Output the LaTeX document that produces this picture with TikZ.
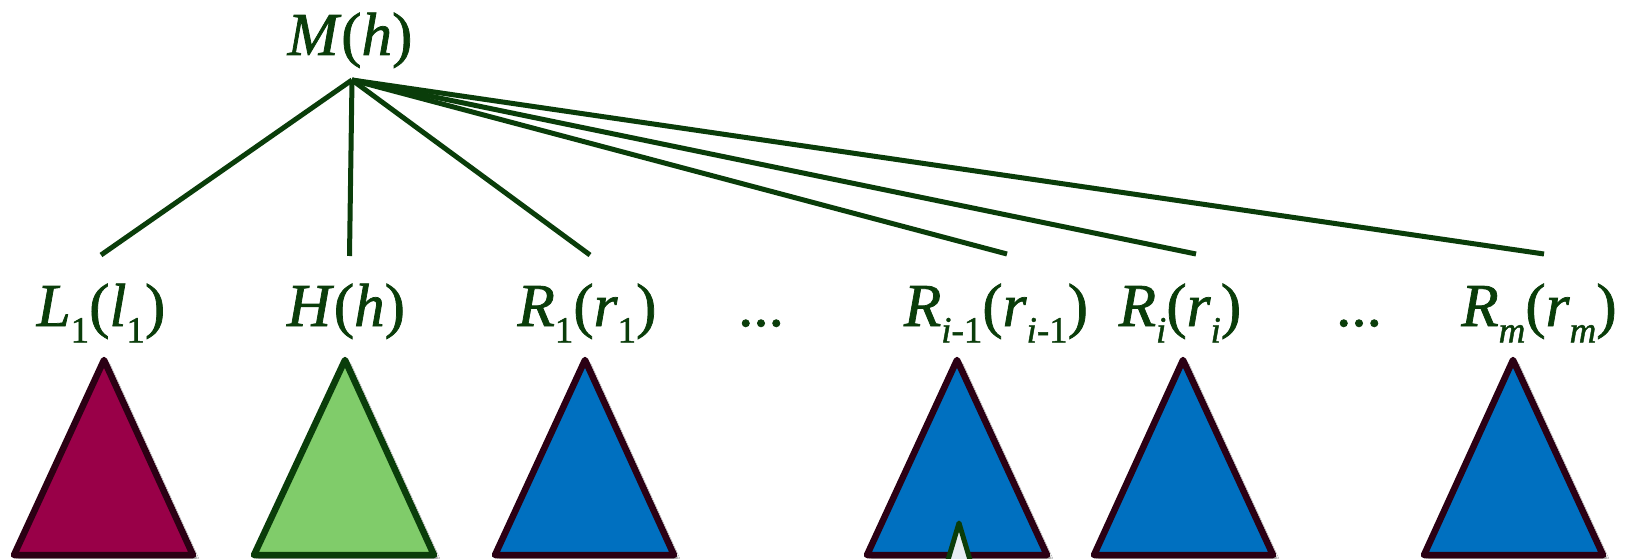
\documentclass[tikz,border=0pt]{standalone}
\usepackage{fontspec}
\setmainfont{Liberation Serif}[UprightFeatures={FakeBold=1.2}, ItalicFeatures={FakeBold=1.2}]
\usetikzlibrary{shadows.blur}
\definecolor{txtgreen}{HTML}{0A3D0A}
\definecolor{edgedark}{HTML}{2B0014}
\definecolor{magfill}{HTML}{990048}
\definecolor{greenfill}{HTML}{80CC6A}
\definecolor{bluefill}{HTML}{0070C0}
\definecolor{palefill}{HTML}{E6EDF2}
\newcommand\sbs[1]{\raisebox{-0.27em}{\fontsize{37}{37}\selectfont #1}}
\tikzset{
  lbl/.style={anchor=base, inner sep=0pt, text=txtgreen, font=\fontsize{61}{61}\selectfont},
  link/.style={draw=txtgreen, line width=5pt},
  tri/.style={draw=edgedark, line width=6.5pt, line join=round,
    blur shadow={shadow xshift=4pt, shadow yshift=-4pt, shadow blur steps=6, shadow opacity=50}},
}
\begin{document}
\begin{tikzpicture}[x=1pt,y=-1pt]
\useasboundingbox (0,0) rectangle (1626,559);
\fill[white] (0,0) rectangle (1626,559);
% labels
\node[lbl] (M) at (350,55) {\textit{M}(\textit{h})};
\node[lbl] (L1) at (101,326) {\textit{L}\sbs{1}(\textit{l}\sbs{1})};
\node[lbl] (H) at (346,326) {\textit{H}(\textit{h})};
\node[lbl] (R1) at (587,326) {\textit{R}\sbs{1}(\textit{r}\sbs{1})};
\node[lbl] (d1) at (761,326) {...};
\node[lbl] (Ri1) at (996,326) {\textit{R}\sbs{\textit{i}-1}(\textit{r}\sbs{\textit{i}-1})};
\node[lbl] (Ri) at (1180,326) {\textit{R}\sbs{\textit{i}}(\textit{r}\sbs{\textit{i}})};
\node[lbl] (d2) at (1359,326) {...};
\node[lbl] (Rm) at (1539,326) {\textit{R}\sbs{\textit{m}}(\textit{r}\sbs{\textit{m}})};
% connector ends
\coordinate (top) at (352,80);
\coordinate (eL1) at (101,255);
\coordinate (eH) at (349.5,256);
\coordinate (eR1) at (590,255);
\coordinate (eRi1) at (1007,254);
\coordinate (eRi) at (1196,254);
\coordinate (eRm) at (1544,254);
\draw[link] (top) -- (eL1);
\draw[link] (top) -- (eH);
\draw[link] (top) -- (eR1);
\draw[link] (top) -- (eRi1);
\draw[link] (top) -- (eRi);
\draw[link] (top) -- (eRm);
% triangles
\draw[tri, fill=magfill] (104,360) -- (193,555) -- (14,555) -- cycle;
\draw[tri, fill=greenfill, draw=txtgreen] (345,360) -- (434,555) -- (254,555) -- cycle;
\draw[tri, fill=bluefill] (585,360) -- (674,555) -- (495,555) -- cycle;
\draw[tri, fill=bluefill] (957,360) -- (1047,555) -- (867,555) -- cycle;
\draw[tri, fill=bluefill] (1183,360) -- (1273,555) -- (1094,555) -- cycle;
\draw[tri, fill=bluefill] (1513,360) -- (1603,555) -- (1424,555) -- cycle;
\begin{scope}
\clip (0,0) rectangle (1626,559);
\draw[draw=txtgreen, fill=palefill, line width=5pt, line join=round] (959,523) -- (976,580) -- (942,580) -- cycle;
\end{scope}
\end{tikzpicture}
\end{document}
